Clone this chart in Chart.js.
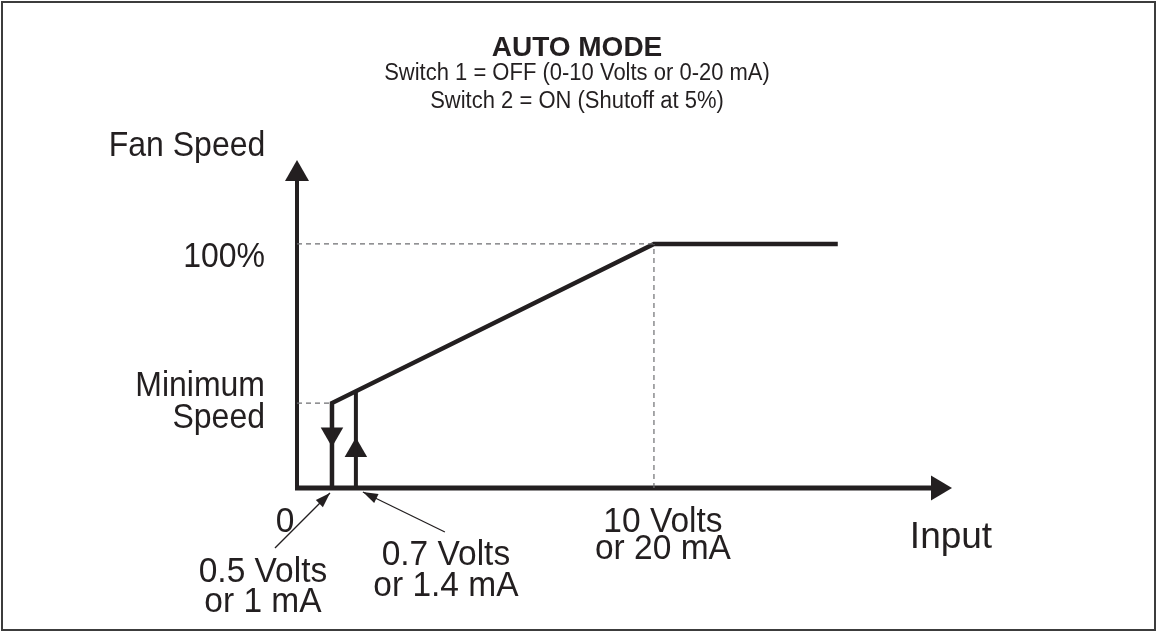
<!DOCTYPE html>
<html>
<head>
<meta charset="utf-8">
<script src="https://cdn.jsdelivr.net/npm/chart.js@4.4.0/dist/chart.umd.min.js"></script>
<style>
  html, body { margin: 0; padding: 0; background: #fff; }
  #wrap { width: 1157px; height: 633px; }
</style>
</head>
<body>
<div id="wrap"><canvas id="fanChart"></canvas></div>
<script>
// values (input as placed on the diagram, fan speed in %)
const inputMax = 18.35;
const speedMax = 134.4;
const fallingInput = [0.98, 0.98, 10, 15.15];
const fallingSpeed = [0, 34.8, 100, 100];
const risingInput = [1.65, 1.65];
const risingSpeed = [0, 39.7];
const directionInput = [0.98, 1.65];
const directionSpeed = [22.1, 15.4];
const directionRotation = [180, 0];
const minSpeed = 34.8;
const fullSpeed = 100;
const fullScaleInput = 10;

const titleText = 'AUTO MODE';
const subtitleLines = ['Switch 1 = OFF (0-10 Volts or 0-20 mA)', 'Switch 2 = ON (Shutoff at 5%)'];
const yAxisName = 'Fan Speed';
const xAxisName = 'Input';
const yTickValues = [fullSpeed, minSpeed];
const yTickLabels = [['100%'], ['Minimum', 'Speed']];
const xTickValues = [0, fullScaleInput];
const xTickLabels = [['0'], ['10 Volts', 'or 20 mA']];
const switchLabels = [['0.5 Volts', 'or 1 mA'], ['0.7 Volts', 'or 1.4 mA']];

const ink = '#231f20';
const face = '"Liberation Sans", Arial, sans-serif';

const pts = (xs, ys) => xs.map((x, i) => ({ x: x, y: ys[i] }));

function arrowHead(ctx, tipX, tipY, angle, len, half) {
    ctx.save();
    ctx.translate(tipX, tipY);
    ctx.rotate(angle);
    ctx.beginPath();
    ctx.moveTo(0, 0);
    ctx.lineTo(-len, -half);
    ctx.lineTo(-len, half);
    ctx.closePath();
    ctx.fillStyle = ink;
    ctx.fill();
    ctx.restore();
}

// the scan is a little taller than wide, so text gets a small vertical stretch
function lines(ctx, texts, x, y, gap, align, stretch) {
    ctx.textAlign = align;
    texts.forEach((t, i) => {
        ctx.save();
        ctx.translate(x, y + i * gap);
        ctx.scale(1, stretch || 1);
        ctx.fillText(t, 0, 0);
        ctx.restore();
    });
}

function pointer(ctx, x0, y0, x1, y1) {
    ctx.save();
    ctx.strokeStyle = ink;
    ctx.lineWidth = 1.3;
    ctx.beginPath();
    ctx.moveTo(x0, y0);
    ctx.lineTo(x1, y1);
    ctx.stroke();
    ctx.restore();
    arrowHead(ctx, x1, y1, Math.atan2(y1 - y0, x1 - x0), 15, 5);
}

const diagramPlugin = {
    id: 'diagram',
    beforeDraw(chart) {
        const ctx = chart.ctx;
        ctx.save();
        ctx.strokeStyle = '#3c3c3c';
        ctx.lineWidth = 2;
        ctx.strokeRect(2, 2, chart.width - 4, chart.height - 5);
        ctx.restore();
    },
    beforeDatasetsDraw(chart) {
        const ctx = chart.ctx, a = chart.chartArea;
        ctx.save();
        ctx.strokeStyle = ink;
        // y axis
        ctx.lineWidth = 4;
        ctx.beginPath();
        ctx.moveTo(a.left, a.bottom + 2);
        ctx.lineTo(a.left, a.top + 18);
        ctx.stroke();
        // x axis
        ctx.lineWidth = 5;
        ctx.beginPath();
        ctx.moveTo(a.left - 2, a.bottom);
        ctx.lineTo(a.right - 19, a.bottom);
        ctx.stroke();
        ctx.restore();
        arrowHead(ctx, a.left, a.top, -Math.PI / 2, 21, 12);
        arrowHead(ctx, a.right, a.bottom, 0, 21, 12.5);
    },
    afterDatasetsDraw(chart) {
        const ctx = chart.ctx, a = chart.chartArea;
        const xs = chart.scales.x, ys = chart.scales.y;
        ctx.save();
        ctx.fillStyle = ink;
        ctx.textBaseline = 'alphabetic';

        ctx.font = 'bold 28px ' + face;
        lines(ctx, [titleText], 577, 56, 0, 'center');
        ctx.font = '22px ' + face;
        lines(ctx, subtitleLines, 577, 80, 28, 'center', 1.06);

        ctx.font = '32px ' + face;
        lines(ctx, [yAxisName], a.left - 110, a.top - 4, 0, 'center', 1.09);
        lines(ctx, yTickLabels[0], a.left - 32, ys.getPixelForValue(yTickValues[0]) + 23, 0, 'right', 1.09);
        lines(ctx, yTickLabels[1], a.left - 32, ys.getPixelForValue(yTickValues[1]) - 7, 32, 'right', 1.09);

        ctx.font = '37px ' + face;
        lines(ctx, [xAxisName], a.right - 1, a.bottom + 60, 0, 'center');

        ctx.font = '33.5px ' + face;
        lines(ctx, xTickLabels[0], xs.getPixelForValue(xTickValues[0]) - 12, a.bottom + 44, 0, 'center', 1.04);
        lines(ctx, xTickLabels[1], xs.getPixelForValue(xTickValues[1]) + 9, a.bottom + 44, 27, 'center', 1.04);

        const dropX = xs.getPixelForValue(directionInput[0]);
        const riseX = xs.getPixelForValue(directionInput[1]);
        lines(ctx, switchLabels[0], dropX - 69, a.bottom + 94, 30, 'center', 1.04);
        lines(ctx, switchLabels[1], riseX + 90, a.bottom + 77, 31, 'center', 1.04);
        ctx.restore();

        pointer(ctx, dropX - 57, a.bottom + 60, dropX - 2, a.bottom + 5);
        pointer(ctx, riseX + 89, a.bottom + 44, riseX + 7, a.bottom + 4);
    }
};

const guide = {
    borderColor: '#6d6e71',
    borderWidth: 1.2,
    borderDash: [5, 4],
    pointRadius: 0,
    showLine: true
};

new Chart(document.getElementById('fanChart'), {
    type: 'scatter',
    data: {
        datasets: [
            Object.assign({ data: pts([0, fullScaleInput], [fullSpeed, fullSpeed]) }, guide),
            Object.assign({ data: pts([fullScaleInput, fullScaleInput], [0, fullSpeed]) }, guide),
            Object.assign({ data: pts([0, fallingInput[1]], [minSpeed, minSpeed]) }, guide),
            {
                label: 'Falling input',
                data: pts(fallingInput, fallingSpeed),
                showLine: true,
                borderColor: ink,
                borderWidth: 4.5,
                borderJoinStyle: 'miter',
                pointRadius: 0
            },
            {
                label: 'Rising input',
                data: pts(risingInput, risingSpeed),
                showLine: true,
                borderColor: ink,
                borderWidth: 4,
                pointRadius: 0
            },
            {
                label: 'Direction',
                data: pts(directionInput, directionSpeed),
                showLine: false,
                pointStyle: 'triangle',
                pointRadius: 13,
                pointRotation: directionRotation,
                pointBackgroundColor: ink,
                pointBorderWidth: 0
            }
        ]
    },
    options: {
        responsive: true,
        maintainAspectRatio: false,
        animation: false,
        layout: {
            autoPadding: false,
            padding: { left: 297, right: 205, top: 160, bottom: 145 }
        },
        scales: {
            x: { type: 'linear', min: 0, max: inputMax, display: false },
            y: { type: 'linear', min: 0, max: speedMax, display: false }
        },
        plugins: {
            legend: { display: false },
            tooltip: { enabled: false }
        }
    },
    plugins: [diagramPlugin]
});
</script>
</body>
</html>
